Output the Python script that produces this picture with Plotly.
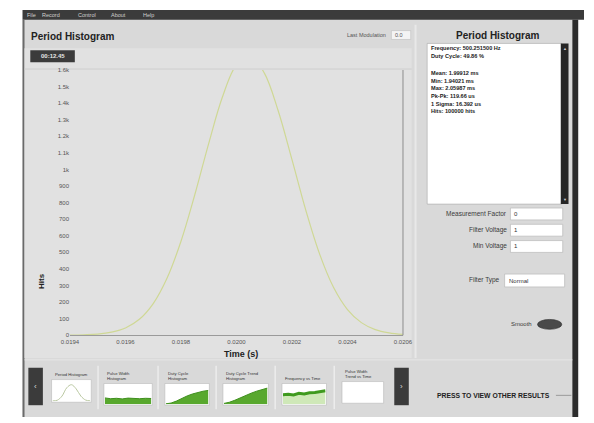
import plotly.graph_objects as go

W, H = 594, 423
FONT = "Liberation Sans"

# ---- main period histogram -------------------------------------------------
time_s = [0.01940, 0.01945, 0.01950, 0.01955, 0.01960, 0.01965, 0.01970,
          0.01975, 0.01980, 0.01985, 0.01990, 0.01995, 0.02000, 0.02005,
          0.02010, 0.02015, 0.02020, 0.02025, 0.02030, 0.02035, 0.02040,
          0.02045, 0.02050, 0.02055, 0.02060]
hits = [1, 3, 7, 19, 44, 96, 191, 345, 567, 849, 1158, 1440, 1631, 1683,
        1583, 1356, 1059, 753, 488, 288, 155, 76, 34, 14, 5]

x_ticks = [0.0194, 0.0196, 0.0198, 0.0200, 0.0202, 0.0204, 0.0206]
y_ticks = list(range(0, 1601, 100))

# ---- thumbnail strip --------------------------------------------------------
thumb_titles = ["Period Histogram", "Pulse Width<br>Histogram",
                "Duty Cycle<br>Histogram", "Duty Cycle Trend<br>Histogram",
                "Frequency vs Time", "Pulse Width<br>Trend vs Time"]
thumb_x = [0, 1, 2, 3, 4, 5, 6, 7, 8]
thumb_period = [0.02, 0.05, 0.25, 0.65, 0.8, 0.6, 0.25, 0.06, 0.02]
thumb_width = [0.32, 0.28, 0.3, 0.27, 0.31, 0.29, 0.28, 0.3, 0.29]
thumb_duty = [0.02, 0.06, 0.16, 0.3, 0.42, 0.52, 0.6, 0.66, 0.7]
thumb_trend = [0.04, 0.1, 0.2, 0.33, 0.46, 0.56, 0.66, 0.76, 0.82]
thumb_freq = [0.48, 0.5, 0.47, 0.55, 0.52, 0.58, 0.6, 0.63, 0.68]

# ---- side panel text ---------------------------------------------------------
stats_lines = ["Frequency: 500.251500 Hz", "Duty Cycle: 49.86 %", "",
               "Mean: 1.99912 ms", "Min: 1.94021 ms", "Max: 2.05987 ms",
               "Pk-Pk: 119.66 us", "1 Sigma: 16.392 us", "Hits: 100000 hits"]
form_labels = ["Measurement Factor", "Filter Voltage", "Min Voltage"]
form_values = ["0", "1", "1"]

GREEN = "#58a82e"
BODY = "#d9d9d9"
DARK = "#3b3b3b"


def px(x):
    return x / W


def py(y):
    return 1 - y / H


shapes = []
annotations = []


def rect(x0, y0, x1, y1, fill, line_color=None, line_w=0, layer="below"):
    shapes.append(dict(type="rect", xref="paper", yref="paper",
                       x0=px(x0), x1=px(x1), y0=py(y1), y1=py(y0),
                       fillcolor=fill, layer=layer,
                       line=dict(color=line_color or fill, width=line_w)))


def hline(x0, x1, y, color, w=1, layer="below"):
    shapes.append(dict(type="line", xref="paper", yref="paper",
                       x0=px(x0), x1=px(x1), y0=py(y), y1=py(y),
                       line=dict(color=color, width=w), layer=layer))


def vline(x, y0, y1, color, w=1, layer="below"):
    shapes.append(dict(type="line", xref="paper", yref="paper",
                       x0=px(x), x1=px(x), y0=py(y0), y1=py(y1),
                       line=dict(color=color, width=w), layer=layer))


def text(x, y, s, size=7, color="#333333", bold=False, xa="left",
         ya="middle", angle=0):
    annotations.append(dict(x=px(x), y=py(y), xref="paper", yref="paper",
                            text=f"<b>{s}</b>" if bold else s,
                            showarrow=False, xanchor=xa, yanchor=ya,
                            textangle=angle, align="left", borderpad=0,
                            font=dict(family=FONT, size=size, color=color)))


# window body and frame
rect(14, 7, 588, 420, BODY)
rect(14, 7, 594, 17, DARK)                 # menu bar
vline(15, 17, 420, "#6a6a6a", 2)
rect(582, 17, 588, 420, "#2c2c2c")         # right window edge
rect(16, 46, 416, 360, "#e1e1e1")          # chart panel
hline(16, 416, 67, "#cfcfcf", 1)
vline(420, 22, 360, "#e8e8e8", 2)

for label, xm in zip(["File", "Record", "Control", "About", "Help"],
                     [18, 33, 70, 104, 137]):
    text(xm, 12, label, 5.5, "#cfcfcf")

# chart header
text(22, 34, "Period Histogram", 10, "#222222", True)
rect(22, 48, 68, 60, DARK, layer="above")
text(45, 54, "00:12.45", 6, "#e6e6e6", True, xa="center")
text(390, 32, "Last Modulation", 5.5, "#555555", xa="right")
rect(395, 28, 415, 37, "#f4f4f4", "#bdbdbd", 0.6)
text(398, 32.5, "0.0", 5.5, "#555555")

# axis titles
text(33, 282, "Hits", 8, "#222222", True, xa="center", angle=-90)
text(240, 356, "Time (s)", 9, "#222222", True, xa="center")
vline(407, 68, 337, "#9a9a9a", 1.2, layer="above")

# right panel
text(505, 33, "Period Histogram", 10, "#222222", True, xa="center")
rect(432, 41, 571, 204, "#ffffff", "#a8a8a8", 0.6)
rect(570, 41, 578, 204, "#262626")
text(574, 46, "▲", 4, "#d0d0d0", xa="center")
text(574, 199, "▼", 4, "#d0d0d0", xa="center")
for i, line in enumerate(stats_lines):
    if line:
        yy = 46 + i * 7.9 if i < 2 else 71 + (i - 3) * 7.8
        text(435, yy, line, 5.6, "#1c1c1c", True)

for i, (lab, val) in enumerate(zip(form_labels, form_values)):
    yy = 214 + i * 16.5
    text(515, yy, lab, 6.5, "#3a3a3a", xa="right")
    rect(518, yy - 6, 572, yy + 6, "#ffffff", "#b0b0b0", 0.6)
    text(521, yy, val, 6, "#333333")

text(508, 281, "Filter Type", 6.5, "#3a3a3a", xa="right")
rect(512, 275, 574, 288, "#ffffff", "#b0b0b0", 0.6)
text(516, 281.5, "Normal", 6, "#333333")
text(541, 326, "Smooth", 6, "#3a3a3a", xa="right")
shapes.append(dict(type="circle", xref="paper", yref="paper",
                   x0=px(546), x1=px(571), y0=py(331), y1=py(321),
                   fillcolor="#4a4a4a", line=dict(color="#2a2a2a", width=0.6),
                   layer="above"))

# thumbnail strip
hline(16, 582, 362, "#e6e6e6", 1)
rect(20, 370, 35, 408, DARK, layer="above")
rect(398, 370, 413, 408, DARK, layer="above")
text(27.5, 389, "‹", 8, "#d8d8d8", xa="center")
text(405.5, 389, "›", 8, "#d8d8d8", xa="center")
text(441, 398, "PRESS TO VIEW OTHER RESULTS", 6.8, "#222222", True)
hline(565, 581, 398, "#8a8a8a", 0.8)

thumb_boxes = [(45, 383, 84, 404), (99, 387, 147, 407), (162, 387, 206, 407),
               (222, 387, 267, 407), (283, 387, 327, 407), (345, 385, 386, 405)]
for sep in [92, 154, 214, 275, 336]:
    vline(sep, 368, 412, "#ececec", 1.5)
for (x0, y0, x1, y1), title in zip(thumb_boxes, thumb_titles):
    rect(x0 - 1, y0 - 1, x1 + 1, y1 + 1, "#ffffff", "#b8b8b8", 0.6)
    text(x0 + 1, y0 - 3, title, 4.2, "#333333", ya="bottom")

fig = go.Figure()

fig.add_trace(go.Scatter(x=time_s, y=hits, mode="lines",
                         line=dict(color="#cfd895", width=1.2, shape="spline"),
                         hoverinfo="skip", showlegend=False))

thumb_series = [(thumb_period, "line"), (thumb_width, "fill"),
                (thumb_duty, "fill"), (thumb_trend, "fill"),
                (thumb_freq, "band"), (None, "empty")]
for k, ((x0, y0, x1, y1), (vals, kind)) in enumerate(zip(thumb_boxes,
                                                         thumb_series)):
    ax = k + 2
    fig.update_layout(**{
        f"xaxis{ax}": dict(domain=[px(x0), px(x1)], range=[0, 8],
                           visible=False, anchor=f"y{ax}"),
        f"yaxis{ax}": dict(domain=[py(y1), py(y0)], range=[0, 1],
                           visible=False, anchor=f"x{ax}"),
    })
    if vals is None:
        continue
    if kind == "line":
        tr = go.Scatter(x=thumb_x, y=vals, mode="lines",
                        line=dict(color="#b9c7a0", width=1, shape="spline"))
    elif kind == "fill":
        tr = go.Scatter(x=thumb_x, y=vals, mode="lines", fill="tozeroy",
                        fillcolor=GREEN, line=dict(color="#3f8f1e", width=1))
    else:
        tr = go.Scatter(x=thumb_x, y=vals, mode="lines", fill="tozeroy",
                        fillcolor="#cfe8b8",
                        line=dict(color="#3f9a1e", width=3))
    tr.update(xaxis=f"x{ax}", yaxis=f"y{ax}", hoverinfo="skip",
              showlegend=False)
    fig.add_trace(tr)

fig.update_layout(
    width=W, height=H,
    margin=dict(l=0, r=0, t=0, b=0),
    paper_bgcolor="#ffffff",
    plot_bgcolor="#ffffff",
    showlegend=False,
    shapes=shapes,
    annotations=annotations,
    xaxis=dict(domain=[px(63), px(407)], range=[x_ticks[0], x_ticks[-1]],
               tickvals=x_ticks, ticktext=[f"{v:.4f}" for v in x_ticks],
               showgrid=False, zeroline=False, showline=True,
               linecolor="#9a9a9a", linewidth=1.2, ticks="",
               tickfont=dict(family=FONT, size=6, color="#555555")),
    yaxis=dict(domain=[py(337), py(68)], range=[0, 1600],
               tickvals=y_ticks, tickformat="~s",
               showgrid=False, zeroline=False, showline=False, ticks="",
               tickfont=dict(family=FONT, size=6, color="#555555")),
)

fig.write_html("out.html", config={"displayModeBar": False})
